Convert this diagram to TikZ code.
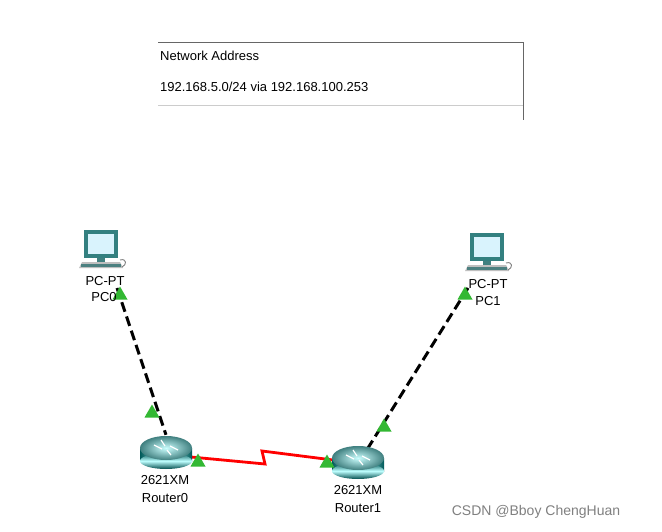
\documentclass[tikz,border=0pt]{standalone}
\usepackage{fontspec}
\setmainfont{Liberation Sans}
\begin{document}
\begin{tikzpicture}[x=1pt,y=-1pt,
  lbl/.style={font=\fontsize{13}{15}\selectfont,inner sep=0pt},
  eth/.style={line width=3pt,dash pattern=on 10pt off 5pt},
  ser/.style={line width=2.8pt,red},
  tri/.style={fill=green!65!black!80,draw=none},
  pc/.style={minimum width=44pt,minimum height=42pt,inner sep=0pt},
  router/.style={minimum width=54pt,minimum height=34pt,inner sep=0pt}]
\useasboundingbox (0,0) rectangle (662,532);
\fill[white] (0,0) rectangle (662,532);
% table
\draw[gray!80!black,line width=0.8pt] (158,42) -- (523,42) -- (523,120);
\draw[gray!40,line width=0.8pt] (158,105) -- (523,105);
\node[lbl,anchor=west] (hdr) at (160,56) {Network Address};
\node[lbl,anchor=west] (rt) at (160,87) {192.168.5.0/24 via 192.168.100.253};
% device nodes
\node[pc] (pc0) at (101,250) {};
\node[pc] (pc1) at (487,253) {};
\node[router] (r0) at (166,452) {};
\node[router] (r1) at (358,462) {};
\coordinate (z1) at (265,464);
\coordinate (z2) at (262,451);
% links
\draw[eth] (117,288) -- (r0.north);
\draw[eth] (468,288) -- (368,448);
\draw[ser] (191,457) -- (z1) -- (z2) -- (333,460);
% PC icons
\foreach \n in {pc0,pc1}{
  \begin{scope}[shift={(\n.center)}]
    \fill[teal!60!gray] (-17,-20) rectangle (17,8);
    \fill[cyan!15!white] (-13,-16) rectangle (13,4);
    \fill[teal!50!gray] (-4,8) rectangle (4,12);
    \fill[gray!50] (-19,12) -- (19,12) -- (22,18) -- (-22,18) -- cycle;
    \fill[teal!40!gray] (-20,14) rectangle (20,17);
    \draw[gray,line width=0.9pt] (19,10) .. controls (26,8) and (26,15) .. (21,17);
  \end{scope}}
% router icons
\foreach \n in {r0,r1}{
  \begin{scope}[shift={(\n.center)}]
    \shade[left color=teal!70!black,right color=teal!70!black,middle color=cyan!25] (-26,-4) rectangle (26,9);
    \shade[bottom color=teal!60!black,top color=teal!70!black,middle color=cyan!25] (0,9) ellipse (26 and 8);
    \shade[inner color=cyan!20,outer color=teal!50!gray] (0,-4) ellipse (26 and 12);
    \draw[white,line width=1.2pt] (-12,-7)--(-4,-3) (12,-2)--(4,-6) (-5,-12)--(-1,-6) (5,3)--(1,-2);
  \end{scope}}
% triangles
\foreach \p in {(120,293),(152,411),(465,293),(384,425),(198,460),(327,461)}{
  \fill[tri] \p ++(-7.5,6.5) -- ++(15,0) -- ++(-7.5,-13) -- cycle;}
% labels
\node[lbl] (l1) at (105,281) {PC-PT};
\node[lbl] (l2) at (104,297) {PC0};
\node[lbl] (l3) at (488,284) {PC-PT};
\node[lbl] (l4) at (488,301) {PC1};
\node[lbl] (l5) at (165,480) {2621XM};
\node[lbl] (l6) at (165,498) {Router0};
\node[lbl] (l7) at (358,490) {2621XM};
\node[lbl] (l8) at (358,508) {Router1};
\node[lbl,gray,font=\fontsize{14}{16}\selectfont] (wm) at (536,512) {CSDN @Bboy ChengHuan};
\end{tikzpicture}
\end{document}
